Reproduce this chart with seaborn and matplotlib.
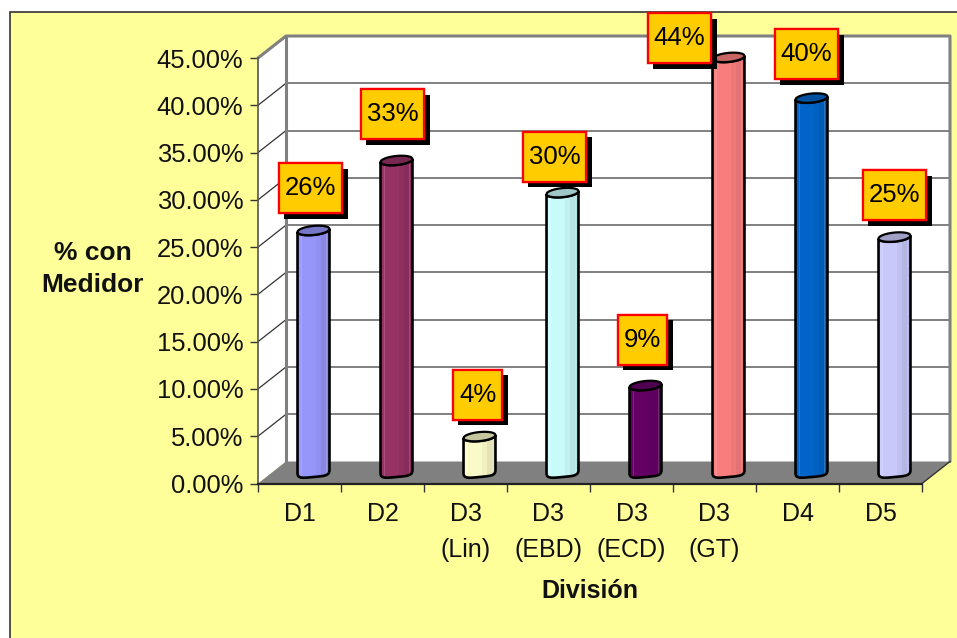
import numpy as np
import seaborn as sns
import matplotlib
matplotlib.use('Agg')
import matplotlib.pyplot as plt
from matplotlib.patches import Rectangle, Polygon
from matplotlib.path import Path
from matplotlib.transforms import Affine2D
import matplotlib.patheffects as pe

divisions = ['D1', 'D2', 'D3\n(Lin)', 'D3\n(EBD)', 'D3\n(ECD)', 'D3\n(GT)', 'D4', 'D5']
values = [25.6, 33.0, 3.8, 29.6, 9.2, 43.9, 39.6, 24.9]
labels = ['26%', '33%', '4%', '30%', '9%', '44%', '40%', '25%']
colors = ['#9999FF', '#993366', '#FFFFCC', '#CCFFFF', '#660066', '#FF8080', '#0066CC', '#CCCCFF']
y_ticks = [0, 5, 10, 15, 20, 25, 30, 35, 40, 45]

# label box offsets from the top of each bar, in pixels
label_dx = [-3, -4, -2, -8, -3, -49, -5, 0]
label_dy = [42, 46, 42, 36, 46, 19, 44, 42]

W, H = 957, 638
sns.set_theme(style='white')
plt.rcParams['font.family'] = ['Liberation Sans', 'DejaVu Sans']


def label_box(x0, y0, width, height, mutation_size):
    # fixed height box, as the data labels in the original
    cy = y0 + height / 2
    l, r = x0 - 6, x0 + width + 6
    b, t = cy - 25, cy + 25
    return Path([(l, b), (r, b), (r, t), (l, t), (l, b)], closed=True)


fig = plt.figure(figsize=(W / 100, H / 100), dpi=100, facecolor='white')
fig.add_artist(Rectangle((10 / W, -0.01), 1.0, (638 - 12) / H + 0.01, transform=fig.transFigure,
                         facecolor='#FFFF99', edgecolor='#333333', linewidth=1.2, zorder=-5))

ax = fig.add_axes([258 / W, (H - 483.5) / H, (922 - 258) / W, (483.5 - 58) / H])
ax.patch.set_visible(False)

sns.barplot(x=divisions, y=values, hue=divisions, palette=colors, saturation=1,
            width=0.385, legend=False, ax=ax)
ax.set_xlim(-0.5, 7.5)
ax.set_ylim(0, 45)

px_x = 8 / (922 - 258)
px_y = 45 / (483.5 - 58)
depth_x = 28 * px_x
depth_y = 22 * px_y
left, right = -0.5, 7.5

# walls and floor
ax.add_patch(Polygon([(left, 0), (left, 45), (left + depth_x, 45 + depth_y), (left + depth_x, depth_y)],
                     facecolor='white', edgecolor='none', clip_on=False, zorder=0.5))
ax.add_patch(Rectangle((left + depth_x, depth_y), 8, 45, facecolor='white', edgecolor='none',
                       clip_on=False, zorder=0.5))
for t in y_ticks[1:-1]:
    ax.plot([left + depth_x, right + depth_x], [t + depth_y] * 2, color='#808080', lw=1.4,
            clip_on=False, zorder=0.6)
    ax.plot([left, left + depth_x], [t, t + depth_y], color='#333333', lw=0.9, clip_on=False, zorder=0.6)
ax.plot([left, left + depth_x, right + depth_x, right + depth_x],
        [45, 45 + depth_y, 45 + depth_y, depth_y], color='#808080', lw=2.2, clip_on=False, zorder=0.7)
ax.plot([left + depth_x] * 2, [depth_y, 45 + depth_y], color='#808080', lw=2.2, clip_on=False, zorder=0.7)
ax.add_patch(Polygon([(left, 0), (right, 0), (right + depth_x, depth_y), (left + depth_x, depth_y)],
                     facecolor='#808080', edgecolor='none', clip_on=False, zorder=0.8))
ax.plot([right, right + depth_x], [0, depth_y], color='#333333', lw=1, clip_on=False, zorder=0.9)

# cylinders, built on the bars seaborn drew
shift = Affine2D().translate(depth_x / 2, depth_y / 2) + ax.transData
band_edges = [0.0, 0.10, 0.14, 0.58, 0.72, 0.88, 0.91, 1.0]
band_shade = [1.0, 1.0, 0.98, 0.94, 0.89, 0.89, 0.89]
band_light = [0, 0.14, 0, 0, 0, 0.16, 0]
arc = np.linspace(-1, 1, 60)
half_h = 4.5 * px_y
skew = 1.5 * px_y

for i, bar in enumerate(ax.patches[:len(values)]):
    x0, w, top = bar.get_x(), bar.get_width(), bar.get_height()
    rgb = np.array(matplotlib.colors.to_rgb(colors[i]))
    xs = x0 + (arc + 1) / 2 * w
    round_part = np.sqrt(1 - arc ** 2)
    # bottom edge is squarer than the lid, flat on the left and rising on the right
    foot = np.sqrt(1 - np.abs(arc) ** 5)

    outline = np.vstack([
        np.column_stack([xs, -half_h * foot + skew * arc]),
        np.column_stack([xs[::-1], (top + skew * arc - half_h * round_part)[::-1]]),
    ])
    body = Polygon(outline, closed=True, transform=shift, facecolor='none', edgecolor='black',
                   linewidth=1.9, zorder=4, clip_on=False)
    ax.add_patch(body)

    bar.set_transform(shift)
    bar.set_edgecolor('none')
    bar.set_zorder(2)
    bar.set_clip_path(body)
    for j, shade in enumerate(band_shade):
        c = rgb * shade + (1 - rgb * shade) * band_light[j]
        strip = Rectangle((x0 + band_edges[j] * w, -1), (band_edges[j + 1] - band_edges[j]) * w, top + 2,
                          transform=shift, facecolor=c, edgecolor='none', zorder=3)
        ax.add_patch(strip)
        strip.set_clip_path(body)

    lid = np.vstack([
        np.column_stack([xs, top + skew * arc + half_h * round_part]),
        np.column_stack([xs[::-1], (top + skew * arc - half_h * round_part)[::-1]]),
    ])
    ax.add_patch(Polygon(lid, closed=True, transform=shift, facecolor=rgb * 0.78, edgecolor='black',
                         linewidth=1.6, zorder=5, clip_on=False))

    txt = ax.annotate(labels[i], xy=(x0 + w / 2 + depth_x / 2, top + depth_y / 2),
                      xytext=(label_dx[i] * 0.72, label_dy[i] * 0.72), textcoords='offset points',
                      ha='center', va='center', fontsize=18.5, color='black', zorder=10,
                      annotation_clip=False,
                      bbox=dict(boxstyle=label_box, facecolor='#FFCC00', edgecolor='#FF0000', linewidth=1.6))
    txt.get_bbox_patch().set_path_effects([
        pe.withSimplePatchShadow(offset=(4, -4.2), shadow_rgbFace='black', alpha=1.0),
        pe.Normal(),
    ])

# axes
for s in ['top', 'right']:
    ax.spines[s].set_visible(False)
ax.spines['left'].set_color('#555555')
ax.spines['left'].set_linewidth(1.2)
ax.spines['bottom'].set_color('#222222')
ax.spines['bottom'].set_linewidth(1.6)

ax.set_yticks(y_ticks)
ax.set_yticklabels(['%.2f%%' % t for t in y_ticks], fontsize=18.4, color='#111111')
ax.tick_params(axis='y', length=5.5, width=1, color='#333333', pad=5, left=True)
ax.set_xticks(range(len(divisions)))
ax.set_xticklabels(divisions, fontsize=18, color='#111111', linespacing=1.65)
ax.set_xticks(np.arange(-0.5, 8), minor=True)
ax.tick_params(axis='x', which='major', length=0, pad=13)
ax.tick_params(axis='x', which='minor', length=6, width=1, color='#333333', bottom=True)

fig.text(92.5 / W, (H - 269) / H, '% con\nMedidor', ha='center', va='center', fontsize=19,
         fontweight='bold', color='#111111', linespacing=1.4)
fig.text(590 / W, (H - 591) / H, 'División', ha='center', va='center', fontsize=18,
         fontweight='bold', color='#111111')

fig.savefig('out.png', dpi=100, facecolor=fig.get_facecolor())
